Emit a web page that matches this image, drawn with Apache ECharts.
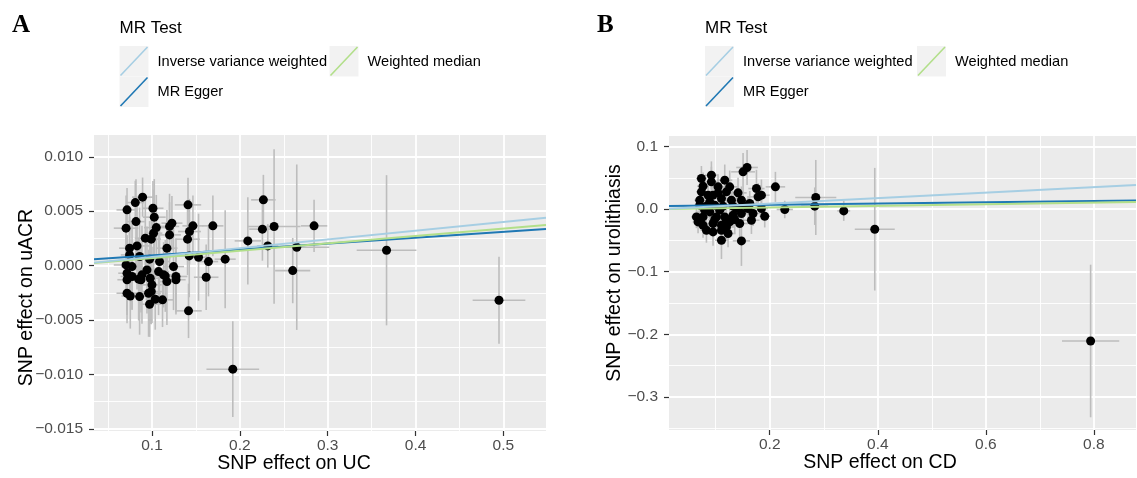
<!DOCTYPE html>
<html>
<head>
<meta charset="utf-8">
<script src="https://cdn.jsdelivr.net/npm/echarts@6.0.0/dist/echarts.min.js"></script>
<style>
  html, body { margin: 0; padding: 0; background: #fff; }
  #chart { width: 1137px; height: 478px; }
</style>
</head>
<body>
<div id="chart"></div>
<script>
// ---------------------------------------------------------------
// Panel A: SNP effect on UC (x) vs SNP effect on uACR (y)
// ---------------------------------------------------------------
var ucBeta = [0.0716, 0.0705, 0.0810, 0.0893, 0.0818, 0.1011, 0.1026, 0.1049, 0.1018, 0.0924,
              0.0992, 0.0745, 0.0830, 0.0745, 0.0859, 0.0705, 0.0773, 0.0716, 0.0773, 0.0716,
              0.0848, 0.0886, 0.0943, 0.0980, 0.1000, 0.0961, 0.0716, 0.0753, 0.0859, 0.0973,
              0.1037, 0.1120, 0.1075, 0.1086, 0.1132, 0.1170, 0.1170, 0.1200, 0.1227, 0.1200,
              0.1245, 0.1273, 0.1273, 0.1410, 0.1427, 0.1466, 0.1405, 0.1424, 0.1530, 0.1643,
              0.1617, 0.1693, 0.1833, 0.1416, 0.1920, 0.2091, 0.2268, 0.2257, 0.2390, 0.2318,
              0.2648, 0.2602, 0.2845, 0.3670, 0.4950, 0.0973, 0.0875, 0.1151, 0.0992];
var uacrBeta = [0.00512, 0.00344, 0.00579, 0.00629, 0.00404, 0.00527, 0.00445, 0.00349, 0.00298, 0.00252,
                0.00243, 0.00160, 0.00181, 0.00098, 0.00083, 0.00006, -0.00009, -0.00070, -0.00100, -0.00130,
                -0.00125, -0.00085, -0.00040, -0.00116, -0.00177, -0.00254, -0.00254, -0.00279, -0.00285, -0.00355,
                -0.00309, -0.00315, -0.00055, 0.00037, -0.00085, -0.00147, 0.00160, 0.00282, 0.00390, 0.00360,
                -0.00009, -0.00100, -0.00130, 0.00558, 0.00313, 0.00365, 0.00243, 0.00089, 0.00077, 0.00037,
                -0.00107, 0.00365, 0.00059, -0.00416, -0.00952, 0.00227, 0.00604, 0.00335, 0.00359, 0.00181,
                0.00169, -0.00046, 0.00365, 0.00141, -0.00318, 0.00059, -0.00131, -0.00095, -0.00239];
var ucSe = [0.012, 0.014, 0.010, 0.012, 0.010, 0.012, 0.013, 0.014, 0.010, 0.012,
            0.011, 0.012, 0.014, 0.010, 0.012, 0.014, 0.012, 0.010, 0.013, 0.011,
            0.012, 0.010, 0.013, 0.012, 0.011, 0.014, 0.012, 0.010, 0.012, 0.013,
            0.011, 0.012, 0.012, 0.011, 0.012, 0.010, 0.012, 0.013, 0.012, 0.011,
            0.012, 0.013, 0.011, 0.015, 0.013, 0.012, 0.014, 0.013, 0.012, 0.011,
            0.014, 0.012, 0.012, 0.015, 0.030, 0.015, 0.014, 0.015, 0.030, 0.012,
            0.037, 0.020, 0.015, 0.034, 0.030, 0.011, 0.012, 0.012, 0.012];
var uacrSe = [0.0020, 0.0030, 0.0020, 0.0018, 0.0039, 0.0025, 0.0035, 0.0030, 0.0040, 0.0035,
              0.0030, 0.0035, 0.0040, 0.0035, 0.0045, 0.0030, 0.0040, 0.0035, 0.0030, 0.0040,
              0.0038, 0.0045, 0.0040, 0.0042, 0.0035, 0.0040, 0.0020, 0.0030, 0.0035, 0.0030,
              0.0028, 0.0025, 0.0040, 0.0035, 0.0030, 0.0040, 0.0035, 0.0030, 0.0025, 0.0030,
              0.0040, 0.0035, 0.0030, 0.0025, 0.0030, 0.0028, 0.0033, 0.0038, 0.0040, 0.0032,
              0.0030, 0.0028, 0.0045, 0.0025, 0.0044, 0.0040, 0.0023, 0.0029, 0.0071, 0.0020,
              0.0076, 0.0030, 0.0024, 0.0069, 0.0040, 0.0035, 0.0030, 0.0033, 0.0030];

// ---------------------------------------------------------------
// Panel B: SNP effect on CD (x) vs SNP effect on urolithiasis (y)
// ---------------------------------------------------------------
var cdBeta = [0.794, 0.3944, 0.337, 0.2852, 0.2833, 0.2278, 0.2105, 0.1907, 0.1846, 0.158,
              0.1506, 0.092, 0.0735, 0.1167, 0.1754, 0.0765, 0.1043, 0.1259, 0.0735, 0.095,
              0.1198, 0.1413, 0.0704, 0.0889, 0.1106, 0.1291, 0.1476, 0.163, 0.0643, 0.0765,
              0.0889, 0.1013, 0.1167, 0.132, 0.1476, 0.1691, 0.1846, 0.0673, 0.0765, 0.095,
              0.1106, 0.1259, 0.1444, 0.0828, 0.095, 0.1106, 0.1228, 0.1106, 0.1476, 0.1198,
              0.0704, 0.0828, 0.0981, 0.1135, 0.132, 0.1506, 0.1784, 0.0796, 0.1074, 0.1383,
              0.1598, 0.092, 0.1043, 0.0858, 0.1198, 0.1352, 0.1661, 0.0981];
var uroBeta = [-0.2107, -0.032, -0.0027, 0.0187, 0.0048, -0.0005, 0.0357, -0.0112, 0.0224, 0.0667,
               0.0597, 0.0544, 0.049, 0.0464, 0.033, 0.0368, 0.0357, 0.0357, 0.0277, 0.0224,
               0.0277, 0.0261, 0.0144, 0.0117, 0.0171, 0.0144, 0.0144, 0.0091, -0.0123, -0.0123,
               -0.0043, -0.0123, -0.0123, -0.0096, -0.0069, -0.0069, 0.0011, -0.0203, -0.0256, -0.0229,
               -0.0256, -0.0203, -0.0229, -0.0336, -0.0363, -0.0336, -0.0389, -0.0496, -0.0507, -0.0283,
               0.0064, 0.0048, 0.0064, 0.0048, 0.0048, 0.0064, 0.0197, -0.0016, -0.0016, 0.0011,
               0.0011, 0.0437, 0.0261, 0.0224, -0.0176, -0.0165, -0.0176, -0.0165];
var cdSe = [0.053, 0.037, 0.012, 0.038, 0.025, 0.015, 0.018, 0.010, 0.015, 0.020,
            0.022, 0.012, 0.010, 0.014, 0.015, 0.011, 0.012, 0.015, 0.010, 0.012,
            0.013, 0.016, 0.010, 0.012, 0.013, 0.014, 0.016, 0.014, 0.010, 0.011,
            0.012, 0.012, 0.014, 0.015, 0.016, 0.015, 0.012, 0.010, 0.011, 0.012,
            0.013, 0.014, 0.016, 0.011, 0.012, 0.013, 0.014, 0.012, 0.016, 0.014,
            0.010, 0.011, 0.012, 0.013, 0.014, 0.016, 0.015, 0.011, 0.012, 0.014,
            0.015, 0.012, 0.012, 0.011, 0.013, 0.015, 0.015, 0.012];
var uroSe = [0.122, 0.098, 0.016, 0.060, 0.030, 0.014, 0.024, 0.018, 0.025, 0.028,
             0.030, 0.022, 0.020, 0.025, 0.030, 0.022, 0.020, 0.026, 0.018, 0.020,
             0.022, 0.024, 0.020, 0.018, 0.024, 0.020, 0.022, 0.020, 0.018, 0.020,
             0.022, 0.018, 0.024, 0.020, 0.022, 0.020, 0.016, 0.018, 0.020, 0.022,
             0.020, 0.024, 0.022, 0.020, 0.022, 0.024, 0.022, 0.030, 0.040, 0.020,
             0.018, 0.020, 0.022, 0.020, 0.022, 0.024, 0.022, 0.020, 0.018, 0.022,
             0.020, 0.024, 0.022, 0.020, 0.020, 0.022, 0.022, 0.020];

// MR estimates (intercept / slope per method)
var methods = ['Inverse variance weighted', 'MR Egger', 'Weighted median'];
var methodColors = ['#a6cee3', '#1f78b4', '#b2df8a'];
var uacrIntercept = [0, 0.0004, 0];
var uacrSlope = [0.0080, 0.0054, 0.0068];
var uroIntercept = [0, 0.0048, 0];
var uroSlope = [0.044, 0.0105, 0.013];

// axis ranges and breaks
var ucRange = [0.034, 0.5485];
var uacrRange = [-0.0152, 0.0120];
var cdRange = [0.0135, 0.8780];
var uroRange = [-0.353, 0.117];
var ucTicks = [0.1, 0.2, 0.3, 0.4, 0.5];
var ucMinor = [0.05, 0.15, 0.25, 0.35, 0.45];
var uacrTicks = [-0.015, -0.010, -0.005, 0, 0.005, 0.010];
var uacrMinor = [-0.0125, -0.0075, -0.0025, 0.0025, 0.0075];
var cdTicks = [0.2, 0.4, 0.6, 0.8];
var cdMinor = [0.1, 0.3, 0.5, 0.7];
var uroTicks = [-0.3, -0.2, -0.1, 0, 0.1];
var uroMinor = [-0.35, -0.25, -0.15, -0.05, 0.05];

var FONT = '"Liberation Sans", Arial, sans-serif';

function zip4(a, b, c, d) {
    return a.map(function (v, i) { return [v, b[i], c[i], d[i]]; });
}

function fmt(digits) {
    return function (v) { return v.toFixed(digits).replace('-', '\u2212'); };
}

// main axis: ticks, labels, major grid lines
function mainAxis(gridIndex, pos, range, ticks, digits, name, gap, pad) {
    return {
        type: 'value', gridIndex: gridIndex, position: pos,
        min: range[0], max: range[1],
        name: name, nameLocation: 'middle', nameGap: gap, nameMoveOverlap: false,
        nameTextStyle: { fontFamily: FONT, fontSize: 19.5, color: '#000', padding: pad },
        axisLine: { show: false, onZero: false },
        axisTick: { show: true, customValues: ticks, length: 5, lineStyle: { color: '#333', width: 1.2 } },
        axisLabel: { customValues: ticks, formatter: fmt(digits), fontFamily: FONT, fontSize: 15.5,
                     color: '#4d4d4d', margin: pos === 'bottom' ? 7 : 11 },
        splitLine: { show: true, lineStyle: { color: '#fff', width: 1.8 } },
        z: 1
    };
}

// hidden axis only used for minor grid lines
function minorAxis(gridIndex, pos, range, ticks) {
    return {
        type: 'value', gridIndex: gridIndex, position: pos,
        min: range[0], max: range[1],
        axisLine: { show: false, onZero: false },
        axisTick: { show: false, customValues: ticks },
        axisLabel: { show: false, customValues: ticks },
        splitLine: { show: true, lineStyle: { color: '#fff', width: 0.9 } },
        z: 0
    };
}

function errorBars(params, api) {
    var x = api.value(0), y = api.value(1), sx = api.value(2), sy = api.value(3);
    var h0 = api.coord([x - sx, y]), h1 = api.coord([x + sx, y]);
    var v0 = api.coord([x, y - sy]), v1 = api.coord([x, y + sy]);
    var st = { stroke: '#bdbdbd', lineWidth: 1.6 };
    return {
        type: 'group',
        children: [
            { type: 'line', shape: { x1: v0[0], y1: v0[1], x2: v1[0], y2: v1[1] }, style: st },
            { type: 'line', shape: { x1: h0[0], y1: h0[1], x2: h1[0], y2: h1[1] }, style: st }
        ]
    };
}

function panelSeries(axisIdx, xr, xs, ys, xse, yse, icpt, slope) {
    var s = [];
    s.push({
        type: 'custom', xAxisIndex: axisIdx, yAxisIndex: axisIdx, clip: true, silent: true,
        renderItem: errorBars, data: zip4(xs, ys, xse, yse), z: 2
    });
    s.push({
        type: 'scatter', xAxisIndex: axisIdx, yAxisIndex: axisIdx, symbolSize: 9,
        itemStyle: { color: '#000', opacity: 1 }, data: xs.map(function (v, i) { return [v, ys[i]]; }), z: 3
    });
    // draw order as in ggplot: Egger, weighted median, IVW
    [1, 2, 0].forEach(function (m) {
        s.push({
            type: 'line', name: methods[m], xAxisIndex: axisIdx, yAxisIndex: axisIdx,
            showSymbol: false, clip: true, silent: true,
            lineStyle: { color: methodColors[m], width: 2 },
            data: [[xr[0], icpt[m] + slope[m] * xr[0]], [xr[1], icpt[m] + slope[m] * xr[1]]], z: 4
        });
    });
    return s;
}

// ggplot-like legend block: title + keys laid out column-wise
function legendBlock(x0, col2) {
    var g = [];
    g.push({ type: 'text', x: x0, y: 28, style: { text: 'MR Test', font: '17px ' + FONT, fill: '#000', textVerticalAlign: 'middle' } });
    var slots = [[x0, 46], [x0, 76.5], [x0 + col2, 46]];
    methods.forEach(function (m, i) {
        var kx = slots[i][0], ky = slots[i][1];
        g.push({ type: 'rect', shape: { x: kx, y: ky, width: 29, height: 30.5 }, style: { fill: '#f2f2f2' } });
        g.push({ type: 'line', shape: { x1: kx + 1, y1: ky + 29.5, x2: kx + 28, y2: ky + 1 },
                 style: { stroke: methodColors[i], lineWidth: 1.6 } });
        g.push({ type: 'text', x: kx + 38, y: ky + 15.5, style: { text: m, font: '14.6px ' + FONT, fill: '#000', textVerticalAlign: 'middle' } });
    });
    return g;
}

var chart = echarts.init(document.getElementById('chart'), null, { renderer: 'canvas' });

var graphics = [
    { type: 'text', x: 12, y: 26, style: { text: 'A', font: 'bold 25px "Liberation Serif", serif', fill: '#000', textVerticalAlign: 'middle' } },
    { type: 'text', x: 597, y: 26, style: { text: 'B', font: 'bold 25px "Liberation Serif", serif', fill: '#000', textVerticalAlign: 'middle' } }
].concat(legendBlock(119.5, 210)).concat(legendBlock(705, 212));

chart.setOption({
    animation: false,
    backgroundColor: '#fff',
    grid: [
        { left: 94, top: 135, width: 452, height: 296, show: true, backgroundColor: '#ebebeb', borderWidth: 0, outerBoundsMode: 'none' },
        { left: 669, top: 136, width: 467, height: 294, show: true, backgroundColor: '#ebebeb', borderWidth: 0, outerBoundsMode: 'none' }
    ],
    xAxis: [
        mainAxis(0, 'bottom', ucRange, ucTicks, 1, 'SNP effect on UC', 23, [0, 52, 0, 0]),
        mainAxis(1, 'bottom', cdRange, cdTicks, 1, 'SNP effect on CD', 23, [0, 45, 0, 0]),
        minorAxis(0, 'top', ucRange, ucMinor),
        minorAxis(1, 'top', cdRange, cdMinor)
    ],
    yAxis: [
        mainAxis(0, 'left', uacrRange, uacrTicks, 3, 'SNP effect on uACR', 57, [0, 29, 0, 0]),
        mainAxis(1, 'left', uroRange, uroTicks, 1, 'SNP effect on urolithiasis', 44, [0, 0, 0, 20]),
        minorAxis(0, 'right', uacrRange, uacrMinor),
        minorAxis(1, 'right', uroRange, uroMinor)
    ],
    graphic: graphics,
    series: panelSeries(0, ucRange, ucBeta, uacrBeta, ucSe, uacrSe, uacrIntercept, uacrSlope)
        .concat(panelSeries(1, cdRange, cdBeta, uroBeta, cdSe, uroSe, uroIntercept, uroSlope))
});
</script>
</body>
</html>
